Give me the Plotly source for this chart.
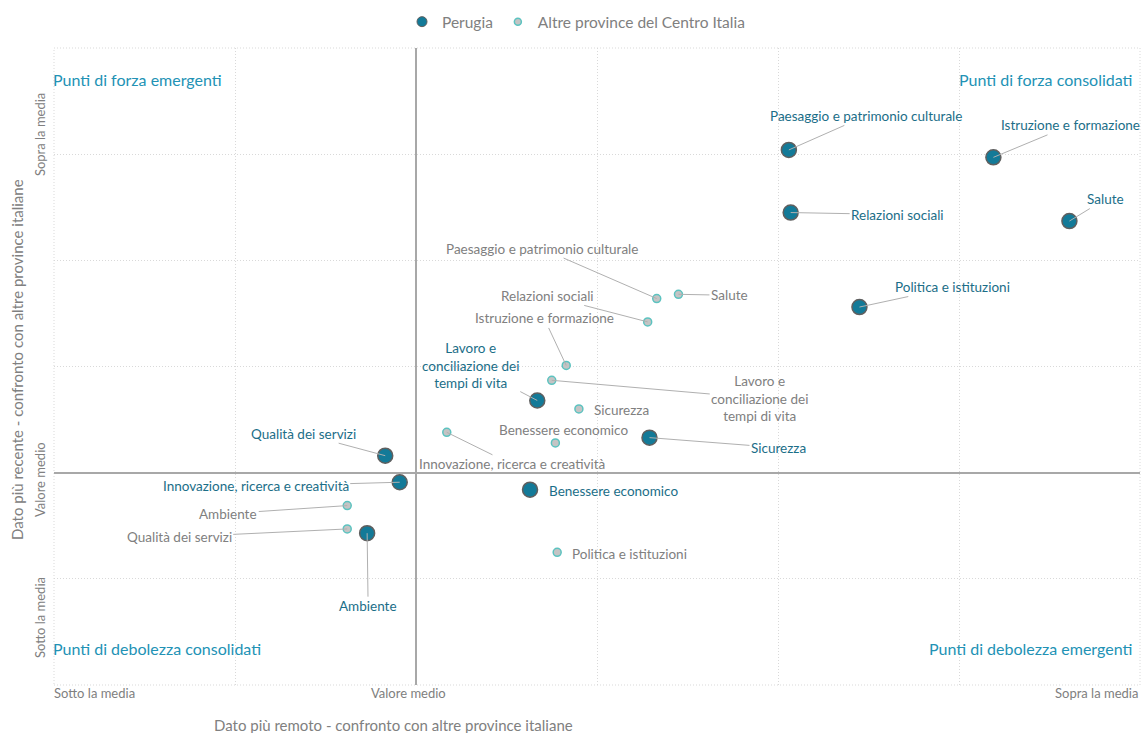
import plotly.graph_objects as go

# ---- data ----
perugia_labels = ["Paesaggio e patrimonio culturale", "Istruzione e formazione", "Salute",
                  "Relazioni sociali", "Politica e istituzioni",
                  "Lavoro e<br>conciliazione dei<br>tempi di vita", "Sicurezza",
                  "Qualità dei servizi", "Innovazione, ricerca e creatività",
                  "Benessere economico", "Ambiente"]
perugia_x = [2.06, 3.19, 3.61, 2.07, 2.45, 0.67, 1.29, -0.17, -0.09, 0.63, -0.27]
perugia_y = [3.04, 2.97, 2.37, 2.45, 1.56, 0.68, 0.33, 0.16, -0.09, -0.16, -0.57]

altre_labels = ["Paesaggio e patrimonio culturale", "Salute", "Relazioni sociali",
                "Istruzione e formazione", "Lavoro e<br>conciliazione dei<br>tempi di vita",
                "Sicurezza", "Innovazione, ricerca e creatività", "Benessere economico",
                "Ambiente", "Qualità dei servizi", "Politica e istituzioni"]
altre_x = [1.33, 1.45, 1.28, 0.83, 0.75, 0.90, 0.17, 0.77, -0.38, -0.38, 0.78]
altre_y = [1.64, 1.68, 1.42, 1.01, 0.87, 0.60, 0.38, 0.28, -0.31, -0.53, -0.75]

# label offsets (pixels) for leader lines; None = no leader line
perugia_off = [(77, -34), (77, -32), (36, -22), (107, 2), (93, -20), (-67, -35),
               (129, 10), (-82, -22), (-144, 4), None, (1, 73)]
altre_off = [(-115, -50), (51, 1), (-100, -26), (-22, -47), (208, 18), None,
             (65, 32), None, (-119, 8), (-168, 8), None]

quadrants = ["Punti di forza emergenti", "Punti di forza consolidati",
             "Punti di debolezza consolidati", "Punti di debolezza emergenti"]
x_ticks = ["Sotto la media", "Valore medio", "Sopra la media"]
y_ticks = ["Sopra la media", "Valore medio", "Sotto la media"]

FONT = "Lato, 'Open Sans', sans-serif"
DARK = "#137a98"
DARK_TXT = "#1b6e88"
GRAY_TXT = "#808080"
QUAD = "#2292b5"
LBL = 13.5
GRID = "#d9d9d9"
DOTS = "1px,2px"

fig = go.Figure()
fig.add_trace(go.Scatter(
    x=perugia_x, y=perugia_y, mode="markers", name="Perugia", showlegend=False,
    marker=dict(size=15, color=DARK, line=dict(color="#5f5f5f", width=1.5)),
    hoverinfo="skip"))
fig.add_trace(go.Scatter(
    x=altre_x, y=altre_y, mode="markers", name="Altre province del Centro Italia",
    showlegend=False,
    marker=dict(size=8, color="#c4c4c4", line=dict(color="#5cc3c0", width=1.5)),
    hoverinfo="skip"))
# legend entries (smaller symbols as in the reference)
fig.add_trace(go.Scatter(
    x=[None], y=[None], mode="markers", name="Perugia",
    marker=dict(size=10, color=DARK, line=dict(color="#5f5f5f", width=1))))
fig.add_trace(go.Scatter(
    x=[None], y=[None], mode="markers", name="Altre province del Centro Italia",
    marker=dict(size=7, color="#c4c4c4", line=dict(color="#5cc3c0", width=1.5))))

ann = []

def add_labels(xs, ys, labels, offs, color, no_line_shift):
    for i, (x, y, t, o) in enumerate(zip(xs, ys, labels, offs)):
        if o is None:
            dx, dy, anchor = no_line_shift[i]
            ann.append(dict(x=x, y=y, text=t, showarrow=False, xanchor=anchor,
                            xshift=dx, yshift=dy, font=dict(size=LBL, color=color, family=FONT)))
        else:
            ann.append(dict(x=x, y=y, text=t, showarrow=True, arrowhead=0, arrowwidth=1,
                            arrowcolor="#b0b0b0", ax=o[0], ay=o[1], standoff=0,
                            font=dict(size=LBL, color=color, family=FONT)))

add_labels(perugia_x, perugia_y, perugia_labels, perugia_off, DARK_TXT,
           {9: (17, -1, "left")})
add_labels(altre_x, altre_y, altre_labels, altre_off, GRAY_TXT,
           {5: (13, -1, "left"), 7: (8, 13, "center"), 10: (13, -2, "left")})

# quadrant labels
qf = dict(size=16, color=QUAD, family=FONT)
ann += [
    dict(xref="paper", yref="paper", x=0.0, xshift=-3, y=0.951, text=quadrants[0], showarrow=False,
         xanchor="left", yanchor="middle", font=qf),
    dict(xref="paper", yref="paper", x=0.9945, y=0.951, text=quadrants[1], showarrow=False,
         xanchor="right", yanchor="middle", font=qf),
    dict(xref="paper", yref="paper", x=0.0, xshift=-3, y=0.057, text=quadrants[2], showarrow=False,
         xanchor="left", yanchor="middle", font=qf),
    dict(xref="paper", yref="paper", x=0.9945, y=0.057, text=quadrants[3], showarrow=False,
         xanchor="right", yanchor="middle", font=qf),
]
# tick labels
tick_font = dict(size=13, color=GRAY_TXT, family=FONT)
ann += [
    dict(xref="paper", yref="paper", x=0.0, xshift=-2, y=0, yshift=2, text=x_ticks[0], showarrow=False,
         xanchor="left", yanchor="top", font=tick_font),
    dict(xref="x", yref="paper", x=-0.04, y=0, yshift=2, text=x_ticks[1], showarrow=False,
         xanchor="center", yanchor="top", font=tick_font),
    dict(xref="paper", yref="paper", x=1.0, y=0, yshift=2, text=x_ticks[2], showarrow=False,
         xanchor="right", yanchor="top", font=tick_font),
    dict(xref="paper", yref="y", x=0, xshift=-14, y=3.18, text=y_ticks[0], showarrow=False,
         textangle=-90, xanchor="center", yanchor="middle", font=tick_font),
    dict(xref="paper", yref="y", x=0, xshift=-14, y=-0.07, text=y_ticks[1], showarrow=False,
         textangle=-90, xanchor="center", yanchor="middle", font=tick_font),
    dict(xref="paper", yref="y", x=0, xshift=-14, y=-1.37, text=y_ticks[2], showarrow=False,
         textangle=-90, xanchor="center", yanchor="middle", font=tick_font),
]
# axis titles
title_font = dict(size=15, color=GRAY_TXT, family=FONT)
ann += [
    dict(xref="paper", yref="paper", x=(393 - 54) / 1086, y=0, yshift=-40,
         text="Dato più remoto - confronto con altre province italiane", showarrow=False,
         xanchor="center", yanchor="middle", font=title_font),
    dict(xref="paper", yref="paper", x=0, xshift=-37, y=(685 - 360) / 637,
         text="Dato più recente - confronto con altre province italiane", showarrow=False,
         textangle=-90, xanchor="center", yanchor="middle", font=title_font),
]

axis_common = dict(range=[-2, 4], dtick=1, tick0=0, showticklabels=False,
                   showgrid=True, gridcolor=GRID, griddash=DOTS, gridwidth=1,
                   zeroline=True, zerolinecolor="#a8a8a8", zerolinewidth=1.5,
                   showline=False, ticks="", fixedrange=True)
fig.update_layout(
    width=1142, height=733,
    margin=dict(l=54, r=2, t=48, b=48, autoexpand=False),
    paper_bgcolor="white", plot_bgcolor="white",
    font=dict(family=FONT, color=GRAY_TXT),
    xaxis=axis_common, yaxis=axis_common,
    showlegend=True,
    legend=dict(orientation="h", x=(576 - 54) / 1086, xanchor="center", y=1.014, yanchor="bottom",
                font=dict(size=15.5, color=GRAY_TXT, family=FONT),
                itemsizing="trace", itemwidth=30),
    annotations=ann,
    shapes=[dict(type="rect", xref="paper", yref="paper", x0=0, y0=0, x1=1, y1=1,
                 line=dict(color=GRID, width=1, dash=DOTS), layer="below")],
)
fig.write_html("out.html", config={"displayModeBar": False},
               post_script="document.body.style.margin='0px';document.body.style.overflow='hidden';")
